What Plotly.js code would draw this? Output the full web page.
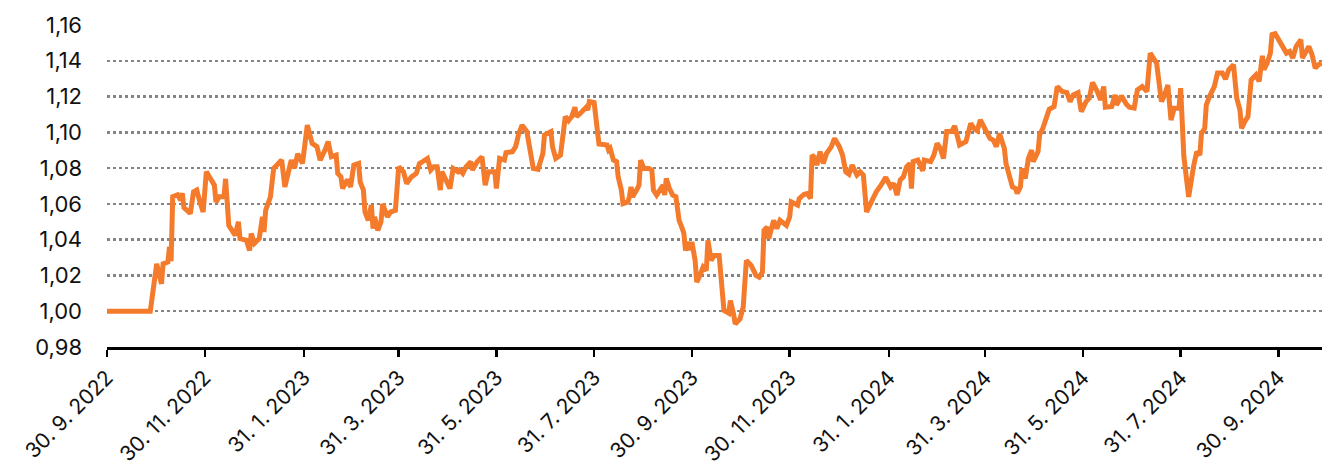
<!DOCTYPE html>
<html>
<head>
<meta charset="utf-8">
<script src="https://cdn.plot.ly/plotly-3.0.1.min.js"></script>
<style>
  html, body { margin: 0; padding: 0; background: #ffffff; }
  #chart { width: 1322px; height: 470px; }
</style>
</head>
<body>
<div id="chart"></div>
<script>
const dates = [
  "2022-09-30","2022-10-27","2022-10-31","2022-11-03","2022-11-04","2022-11-07","2022-11-08","2022-11-09","2022-11-10","2022-11-13",
  "2022-11-15","2022-11-16","2022-11-17","2022-11-21","2022-11-23","2022-11-25","2022-11-27","2022-11-29","2022-12-01","2022-12-03",
  "2022-12-06","2022-12-07","2022-12-09","2022-12-12","2022-12-13","2022-12-15","2022-12-19","2022-12-21","2022-12-22","2022-12-26",
  "2022-12-28","2022-12-29","2022-12-31","2023-01-03","2023-01-05","2023-01-06","2023-01-07","2023-01-10","2023-01-12","2023-01-17",
  "2023-01-19","2023-01-23","2023-01-25","2023-01-27","2023-01-30","2023-02-02","2023-02-05","2023-02-08","2023-02-10","2023-02-13",
  "2023-02-15","2023-02-17","2023-02-20","2023-02-21","2023-02-23","2023-02-24","2023-02-27","2023-03-01","2023-03-03","2023-03-06",
  "2023-03-07","2023-03-09","2023-03-10","2023-03-12","2023-03-14","2023-03-15","2023-03-16","2023-03-18","2023-03-20","2023-03-21",
  "2023-03-24","2023-03-26","2023-03-29","2023-03-31","2023-04-03","2023-04-05","2023-04-08","2023-04-11","2023-04-13","2023-04-15",
  "2023-04-18","2023-04-20","2023-04-22","2023-04-24","2023-04-26","2023-04-27","2023-04-30","2023-05-02","2023-05-04","2023-05-07",
  "2023-05-08","2023-05-10","2023-05-12","2023-05-15","2023-05-16","2023-05-19","2023-05-22","2023-05-24","2023-05-26","2023-05-30",
  "2023-05-31","2023-06-02","2023-06-05","2023-06-06","2023-06-10","2023-06-12","2023-06-14","2023-06-16","2023-06-19","2023-06-21",
  "2023-06-23","2023-06-26","2023-06-28","2023-06-29","2023-06-30","2023-07-04","2023-07-05","2023-07-07","2023-07-10","2023-07-13",
  "2023-07-15","2023-07-17","2023-07-19","2023-07-20","2023-07-22","2023-07-24","2023-07-26","2023-07-27","2023-07-28","2023-07-31",
  "2023-08-02","2023-08-03","2023-08-08","2023-08-09","2023-08-10","2023-08-12","2023-08-14","2023-08-15","2023-08-17","2023-08-18",
  "2023-08-21","2023-08-22","2023-08-23","2023-08-24","2023-08-27","2023-08-28","2023-08-29","2023-08-31","2023-09-03","2023-09-05",
  "2023-09-06","2023-09-08","2023-09-10","2023-09-12","2023-09-13","2023-09-14","2023-09-16","2023-09-18","2023-09-20","2023-09-22",
  "2023-09-24","2023-09-25","2023-09-26","2023-09-28","2023-09-29","2023-09-30","2023-10-02","2023-10-03","2023-10-05","2023-10-07",
  "2023-10-09","2023-10-10","2023-10-12","2023-10-14","2023-10-17","2023-10-19","2023-10-20","2023-10-23","2023-10-24","2023-10-26",
  "2023-10-27","2023-10-30","2023-11-01","2023-11-03","2023-11-06","2023-11-09","2023-11-11","2023-11-13","2023-11-14","2023-11-16",
  "2023-11-17","2023-11-20","2023-11-22","2023-11-24","2023-11-28","2023-11-30","2023-12-01","2023-12-05","2023-12-06","2023-12-09",
  "2023-12-11","2023-12-13","2023-12-14","2023-12-16","2023-12-17","2023-12-19","2023-12-21","2023-12-23","2023-12-26","2023-12-28",
  "2023-12-31","2024-01-02","2024-01-04","2024-01-06","2024-01-08","2024-01-11","2024-01-13","2024-01-15","2024-01-17","2024-01-20",
  "2024-01-23","2024-01-26","2024-01-29","2024-02-01","2024-02-03","2024-02-05","2024-02-07","2024-02-09","2024-02-11","2024-02-13",
  "2024-02-14","2024-02-15","2024-02-18","2024-02-21","2024-02-22","2024-02-26","2024-02-28","2024-03-01","2024-03-03","2024-03-05",
  "2024-03-07","2024-03-10","2024-03-12","2024-03-14","2024-03-15","2024-03-19","2024-03-22","2024-03-24","2024-03-26","2024-03-28",
  "2024-03-31","2024-04-03","2024-04-05","2024-04-07","2024-04-09","2024-04-12","2024-04-13","2024-04-14","2024-04-17","2024-04-19",
  "2024-04-20","2024-04-22","2024-04-23","2024-04-25","2024-04-27","2024-04-29","2024-04-30","2024-05-03","2024-05-04","2024-05-06",
  "2024-05-08","2024-05-10","2024-05-13","2024-05-15","2024-05-18","2024-05-21","2024-05-23","2024-05-25","2024-05-28","2024-05-30",
  "2024-06-01","2024-06-02","2024-06-04","2024-06-06","2024-06-09","2024-06-11","2024-06-13","2024-06-14","2024-06-18","2024-06-20",
  "2024-06-21","2024-06-24","2024-06-27","2024-06-29","2024-07-02","2024-07-04","2024-07-07","2024-07-10","2024-07-12","2024-07-14",
  "2024-07-16","2024-07-19","2024-07-21","2024-07-23","2024-07-25","2024-07-27","2024-07-30","2024-07-31","2024-08-02","2024-08-04",
  "2024-08-05","2024-08-08","2024-08-10","2024-08-12","2024-08-13","2024-08-15","2024-08-16","2024-08-18","2024-08-20","2024-08-21",
  "2024-08-23","2024-08-26","2024-08-28","2024-08-30","2024-09-02","2024-09-04","2024-09-06","2024-09-07","2024-09-09","2024-09-11",
  "2024-09-13","2024-09-16","2024-09-18","2024-09-20","2024-09-21","2024-09-23","2024-09-25","2024-09-26","2024-09-28","2024-10-01",
  "2024-10-05","2024-10-07","2024-10-09","2024-10-11","2024-10-14","2024-10-15","2024-10-17","2024-10-19","2024-10-21","2024-10-23",
  "2024-10-25","2024-10-27"
];

const values = [
  1.0000,1.0000,1.0265,1.0153,1.0265,1.0275,1.0360,1.0280,1.0640,1.0650,
  1.0620,1.0660,1.0580,1.0546,1.0667,1.0677,1.0610,1.0555,1.0780,1.0750,
  1.0705,1.0610,1.0640,1.0640,1.0740,1.0480,1.0424,1.0500,1.0406,1.0396,
  1.0340,1.0434,1.0380,1.0406,1.0527,1.0443,1.0564,1.0640,1.0798,1.0845,
  1.0695,1.0845,1.0800,1.0880,1.0826,1.1040,1.0938,1.0920,1.0845,1.0900,
  1.0948,1.0864,1.0873,1.0770,1.0751,1.0686,1.0736,1.0695,1.0817,1.0826,
  1.0723,1.0677,1.0555,1.0508,1.0593,1.0462,1.0527,1.0452,1.0500,1.0600,
  1.0527,1.0555,1.0564,1.0807,1.0780,1.0714,1.0751,1.0770,1.0826,1.0836,
  1.0854,1.0789,1.0807,1.0807,1.0677,1.0780,1.0723,1.0686,1.0798,1.0780,
  1.0789,1.0770,1.0807,1.0836,1.0789,1.0836,1.0864,1.0705,1.0780,1.0780,
  1.0686,1.0854,1.0845,1.0886,1.0892,1.0920,1.0994,1.1040,1.1004,1.0910,
  1.0798,1.0793,1.0873,1.0882,1.0985,1.1004,1.0920,1.0854,1.0873,1.1088,
  1.1065,1.1088,1.1140,1.1088,1.1103,1.1125,1.1140,1.1125,1.1172,1.1166,
  1.0994,1.0935,1.0929,1.0901,1.0910,1.0845,1.0836,1.0751,1.0677,1.0602,
  1.0611,1.0640,1.0695,1.0640,1.0686,1.0705,1.0845,1.0798,1.0798,1.0789,
  1.0677,1.0649,1.0677,1.0705,1.0649,1.0742,1.0686,1.0649,1.0640,1.0508,
  1.0462,1.0434,1.0340,1.0387,1.0340,1.0387,1.0284,1.0163,1.0200,1.0247,
  1.0228,1.0396,1.0284,1.0312,1.0312,1.0135,1.0004,0.9989,1.0060,0.9985,
  0.9929,0.9957,1.0022,1.0284,1.0256,1.0200,1.0190,1.0219,1.0452,1.0471,
  1.0406,1.0508,1.0462,1.0508,1.0480,1.0527,1.0611,1.0593,1.0630,1.0654,
  1.0658,1.0630,1.0873,1.0854,1.0817,1.0892,1.0826,1.0882,1.0920,1.0966,
  1.0920,1.0873,1.0779,1.0766,1.0817,1.0761,1.0779,1.0761,1.0555,1.0611,
  1.0667,1.0705,1.0748,1.0695,1.0714,1.0649,1.0733,1.0751,1.0807,1.0826,
  1.0686,1.0836,1.0845,1.0785,1.0845,1.0836,1.0873,1.0938,1.0910,1.0854,
  1.1004,1.1004,1.1036,1.0966,1.0929,1.0948,1.1050,1.1022,1.1009,1.1069,
  1.1013,1.0966,1.0957,1.0920,1.0994,1.0910,1.0826,1.0789,1.0695,1.0686,
  1.0658,1.0695,1.0798,1.0742,1.0854,1.0901,1.0836,1.0892,1.0985,1.1022,
  1.1088,1.1129,1.1144,1.1256,1.1228,1.1222,1.1172,1.1209,1.1222,1.1116,
  1.1153,1.1172,1.1191,1.1279,1.1228,1.1181,1.1256,1.1140,1.1144,1.1209,
  1.1153,1.1204,1.1159,1.1140,1.1135,1.1237,1.1256,1.1228,1.1443,1.1415,
  1.1387,1.1172,1.1209,1.1265,1.1069,1.1135,1.1135,1.1247,1.0864,1.0714,
  1.0639,1.0807,1.0892,1.0873,1.0994,1.1022,1.1153,1.1200,1.1237,1.1256,
  1.1331,1.1331,1.1297,1.1350,1.1378,1.1191,1.1125,1.1022,1.1060,1.1088,
  1.1293,1.1321,1.1284,1.1428,1.1350,1.1387,1.1443,1.1546,1.1551,1.1499,
  1.1443,1.1452,1.1415,1.1480,1.1518,1.1415,1.1452,1.1480,1.1434,1.1359,
  1.1378,1.1387
];

const tickDates = [
  "2022-09-30","2022-11-30","2023-01-31","2023-03-31","2023-05-31","2023-07-31","2023-09-30",
  "2023-11-30","2024-01-31","2024-03-31","2024-05-31","2024-07-31","2024-09-30"
];
const tickLabels = [
  "30. 9. 2022","30. 11. 2022","31. 1. 2023","31. 3. 2023","31. 5. 2023","31. 7. 2023","30. 9. 2023",
  "30. 11. 2023","31. 1. 2024","31. 3. 2024","31. 5. 2024","31. 7. 2024","30. 9. 2024"
];
const yTicks = [0.98, 1.00, 1.02, 1.04, 1.06, 1.08, 1.10, 1.12, 1.14, 1.16];

const trace = {
  x: dates,
  y: values,
  type: "scatter",
  mode: "lines",
  line: { color: "#F47B2C", width: 5, shape: "linear" },
  hoverinfo: "skip"
};

const layout = {
  width: 1322,
  height: 470,
  margin: { l: 107, r: 0, t: 25, b: 123, pad: 0 },
  paper_bgcolor: "#ffffff",
  plot_bgcolor: "#ffffff",
  separators: ", ",
  showlegend: false,
  font: { family: "Inter, 'DejaVu Sans', sans-serif", color: "#111111" },
  xaxis: {
    type: "date",
    range: ["2022-09-30", "2024-10-27 05:00"],
    tickmode: "array",
    tickvals: tickDates,
    ticktext: tickLabels,
    tickangle: -45,
    tickfont: { size: 21, color: "#111111" },
    ticks: "outside",
    ticklen: 7,
    tickwidth: 2.5,
    tickcolor: "#000000",
    ticklabelstandoff: 0,
    showline: true,
    linecolor: "#000000",
    linewidth: 3,
    showgrid: false,
    zeroline: false,
    fixedrange: true
  },
  yaxis: {
    range: [0.98, 1.16],
    tickmode: "array",
    tickvals: yTicks,
    tickformat: ".2f",
    tickfont: { size: 22, color: "#111111" },
    ticks: "",
    ticklabelstandoff: 24,
    showline: false,
    showgrid: true,
    gridcolor: "#858585",
    gridwidth: 2.5,
    griddash: "dot",
    zeroline: false,
    fixedrange: true
  }
};

Plotly.newPlot("chart", [trace], layout, { displayModeBar: false, staticPlot: true });
</script>
</body>
</html>
